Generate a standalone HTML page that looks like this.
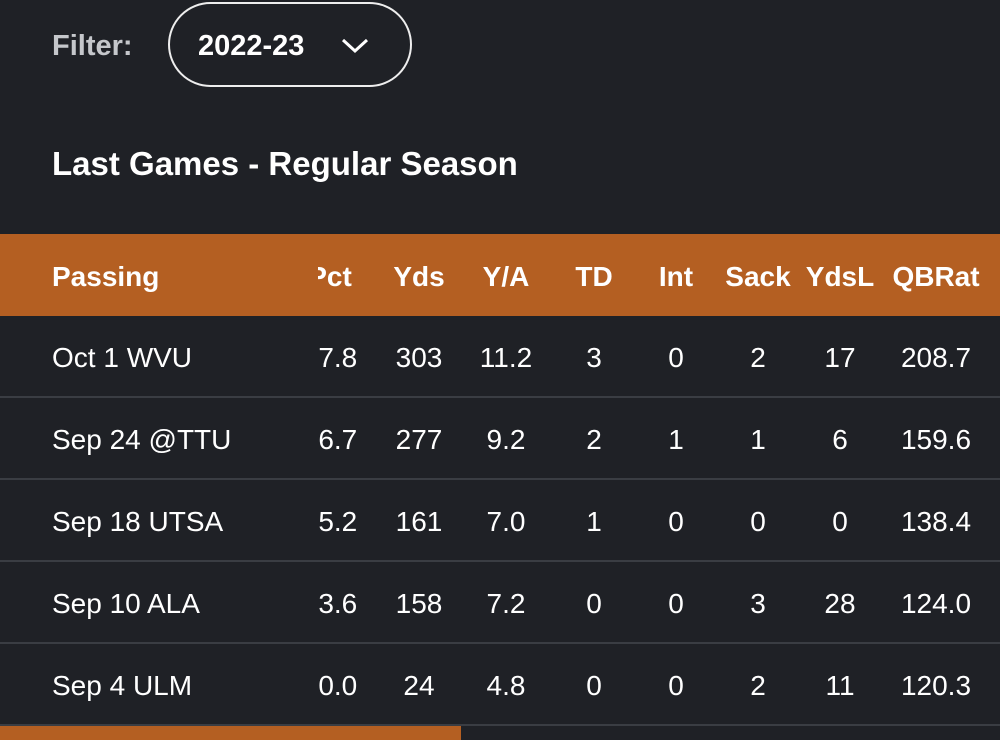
<!DOCTYPE html>
<html><head><style>
body{margin:0;width:1000px;height:740px;background:#1f2126;font-family:"Liberation Sans",sans-serif;color:#fff;position:relative;overflow:hidden}
.a{position:absolute;white-space:nowrap}
.filter{left:52px;top:30px;font-size:29px;font-weight:bold;color:#c5c7cb}
.pill{left:168px;top:2px;width:244px;height:85px;border:2px solid #eee;border-radius:44px;box-sizing:border-box}
.title{left:52px;top:145px;font-size:33px;font-weight:bold}
.hdr{left:0;top:234px;width:1000px;height:82px;background:#b45f22}
.line{left:0;width:1000px;height:2px;background:#3a3d43}
.c{position:absolute;font-size:28px;transform:translateX(-50%)}
.h{font-weight:bold}
.clip{position:absolute;left:318px;top:0;width:682px;height:740px;overflow:hidden}
</style></head><body>
<div class="a filter">Filter:</div>
<div class="a pill"></div>
<div class="a" style="left:198px;top:30px;font-size:29px;font-weight:bold">2022-23</div>
<svg class="a" style="left:340px;top:36px" width="30" height="20"><polyline points="3,4 15,15 27,4" fill="none" stroke="#fff" stroke-width="3"/></svg>
<div class="a title">Last Games - Regular Season</div>
<div class="a hdr"></div>
<div class="a" style="left:52px;top:261px;font-size:28px;font-weight:bold">Passing</div>
<div class="a line" style="top:396px"></div>
<div class="a line" style="top:478px"></div>
<div class="a line" style="top:560px"></div>
<div class="a line" style="top:642px"></div>
<div class="a line" style="top:724px"></div>
<div class="a" style="left:0;top:726px;width:461px;height:14px;background:#b45f22"></div>
<div class="a" style="left:52px;top:342px;font-size:28px">Oct 1 WVU</div>
<div class="a" style="left:52px;top:424px;font-size:28px">Sep 24 @TTU</div>
<div class="a" style="left:52px;top:506px;font-size:28px">Sep 18 UTSA</div>
<div class="a" style="left:52px;top:588px;font-size:28px">Sep 10 ALA</div>
<div class="a" style="left:52px;top:670px;font-size:28px">Sep 4 ULM</div>
<div class="clip">
<div class="c h" style="left:12px;top:261px">Pct</div>
<div class="c" style="left:12px;top:342px">77.8</div>
<div class="c" style="left:12px;top:424px">66.7</div>
<div class="c" style="left:12px;top:506px">55.2</div>
<div class="c" style="left:12px;top:588px">53.6</div>
<div class="c" style="left:12px;top:670px">50.0</div>
</div>
<div id="cols"></div>
<script>
var cols=[[419,"Yds",["303","277","161","158","24"]],[506,"Y/A",["11.2","9.2","7.0","7.2","4.8"]],[594,"TD",["3","2","1","0","0"]],[676,"Int",["0","1","0","0","0"]],[758,"Sack",["2","1","0","3","2"]],[840,"YdsL",["17","6","0","28","11"]],[936,"QBRat",["208.7","159.6","138.4","124.0","120.3"]]];
var h="";cols.forEach(function(c){h+='<div class="c h" style="left:'+c[0]+'px;top:261px">'+c[1]+'</div>';c[2].forEach(function(v,i){h+='<div class="c" style="left:'+c[0]+'px;top:'+(342+82*i)+'px">'+v+'</div>';});});
document.getElementById("cols").innerHTML=h;
</script>
</body></html>
